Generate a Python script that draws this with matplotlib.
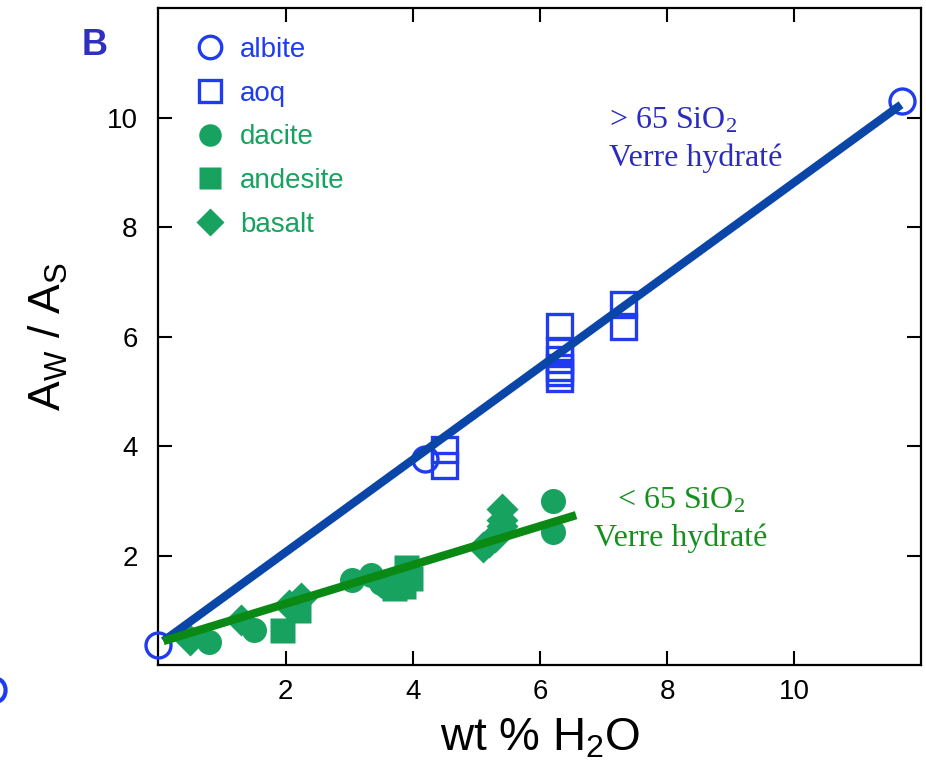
import matplotlib
matplotlib.use("Agg")
import matplotlib.pyplot as plt
from matplotlib.patches import Arc

plt.rcParams['font.family'] = ['Liberation Sans', 'DejaVu Sans']
plt.rcParams['mathtext.default'] = 'regular'

# data (wt % H2O, Aw/As)
albite_x = [0.0, 4.2, 11.7]
albite_y = [0.36, 3.76, 10.3]
aoq_x = [4.5, 4.5, 6.3, 6.3, 6.3, 6.3, 6.3, 6.3, 7.3, 7.3]
aoq_y = [3.95, 3.65, 6.2, 5.75, 5.6, 5.45, 5.35, 5.25, 6.6, 6.2]
dacite_x = [0.8, 1.5, 3.05, 3.35, 3.5, 3.6, 6.2, 6.2]
dacite_y = [0.42, 0.64, 1.55, 1.64, 1.5, 1.42, 3.0, 2.43]
andesite_x = [1.95, 2.2, 3.7, 3.8, 3.9, 3.95, 3.85]
andesite_y = [0.64, 1.0, 1.4, 1.55, 1.8, 1.6, 1.45]
basalt_x = [0.5, 1.3, 2.05, 2.25, 5.1, 5.2, 5.3, 5.4, 5.4, 5.4]
basalt_y = [0.46, 0.82, 1.1, 1.22, 2.15, 2.25, 2.35, 2.55, 2.65, 2.85]

# fitted trend lines (end points)
fit_hi_x = [0.08, 11.68]
fit_hi_y = [0.44, 10.24]
fit_lo_x = [0.08, 6.57]
fit_lo_y = [0.44, 2.74]

blue = '#1f3cf0'
green = '#17a35f'

fig = plt.figure(figsize=(9.26, 7.61), dpi=100)
ax = fig.add_axes([0.171, 0.126, 0.824, 0.863])

ms = 18
ax.plot(albite_x, albite_y, 'o', ms=ms, mfc='none', mec=blue, mew=2.4,
        label='albite', clip_on=False, zorder=3)
ax.plot(aoq_x, aoq_y, 's', ms=ms, mfc='none', mec=blue, mew=2.4,
        label='aoq', zorder=3)
ax.plot(dacite_x, dacite_y, 'o', ms=ms, color=green, mec='none',
        label='dacite', zorder=3)
ax.plot(andesite_x, andesite_y, 's', ms=ms, color=green, mec='none',
        label='andesite', zorder=3)
ax.plot(basalt_x, basalt_y, 'D', ms=ms - 2, color=green, mec='none',
        label='basalt', zorder=3)

ax.plot(fit_hi_x, fit_hi_y, color='#0a45a8', lw=6, solid_capstyle='butt', zorder=4)
ax.plot(fit_lo_x, fit_lo_y, color='#0a8a14', lw=6, solid_capstyle='butt', zorder=5)

ax.set_xlim(0, 12)
ax.set_ylim(0, 12)
ax.set_xticks([2, 4, 6, 8, 10])
ax.set_yticks([2, 4, 6, 8, 10])
ax.tick_params(direction='in', length=10, width=1.5, labelsize=20,
               top=True, right=True)
ax.tick_params(axis='y', pad=15)
ax.tick_params(axis='x', pad=10)
for s in ax.spines.values():
    s.set_linewidth(1.6)

ax.set_xlabel('wt % H$_2$O', fontsize=33, labelpad=8)
ax.set_ylabel('A$_W$ / A$_S$', fontsize=32, labelpad=26)

leg = ax.legend(loc='upper left', bbox_to_anchor=(0.027, 0.982), frameon=False,
                fontsize=20, handlelength=1.0, handletextpad=0.6,
                labelspacing=0.64, borderaxespad=0.2, markerscale=0.9)
for txt, c in zip(leg.get_texts(), [blue, blue, green, green, green]):
    txt.set_color(c)

ax.text(0.59, 0.80, '> 65 SiO$_2$\nVerre hydraté', transform=ax.transAxes,
        family='Liberation Serif', fontsize=23, color='#2b2bbd',
        ha='left', va='center', linespacing=1.35)
ax.text(0.685, 0.222, '< 65 SiO$_2$\nVerre hydraté', transform=ax.transAxes,
        family='Liberation Serif', fontsize=23, color='#14901c',
        ha='center', va='center', linespacing=1.35)

fig.text(0.088, 0.94, 'B', fontsize=26, fontweight='bold', color='#3030c0',
         va='center')
# edge of a neighbouring panel's marker, cut by the left border
fig.patches.append(Arc((-0.004, 0.093), 0.02, 0.03, theta1=-90, theta2=90,
                       transform=fig.transFigure, color=blue, lw=3))

fig.savefig('out.png', dpi=100)
